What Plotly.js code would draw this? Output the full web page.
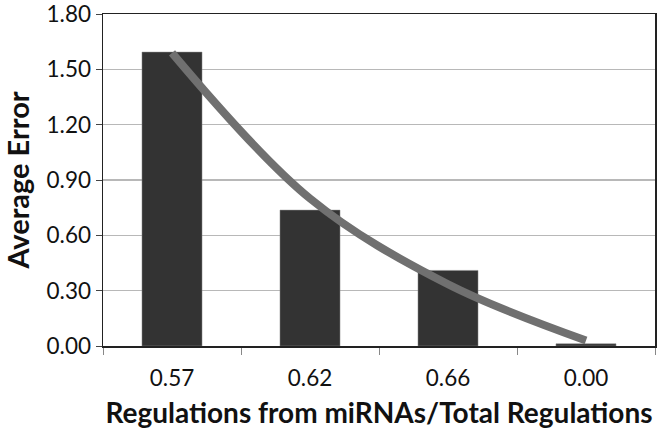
<!DOCTYPE html>
<html>
<head>
<meta charset="utf-8">
<script src="https://cdn.plot.ly/plotly-3.0.1.min.js"></script>
<style>
  html, body { margin: 0; padding: 0; background: #fff; }
  #chart { width: 661px; height: 436px; }
</style>
</head>
<body>
<div id="chart"></div>
<script>
// ratio of regulations coming from miRNAs (category labels as printed)
const ratios = ["0.57", "0.62", "0.66", "0.00"];
// average error per ratio (bars)
const avgError = [1.594, 0.737, 0.41, 0.012];
// trend curve at each category centre
const trendValues = [1.59, 0.80, 0.335, 0.03];
const yTicks = [0, 0.3, 0.6, 0.9, 1.2, 1.5, 1.8];

const bars = {
  x: ratios,
  y: avgError,
  type: "bar",
  marker: { color: "#333333", line: { color: "#8a8a8a", width: 0.5 } },
  hoverinfo: "x+y",
};

const trend = {
  x: ratios,
  y: trendValues,
  type: "scatter",
  mode: "lines",
  line: { color: "#707070", width: 8, shape: "spline", smoothing: 1 },
  hoverinfo: "skip",
};

const titleFont = { size: 28, family: "Lato, 'Open Sans', sans-serif", weight: "bold", color: "#111111" };

const layout = {
  width: 661,
  height: 436,
  margin: { l: 103, r: 6, t: 14, b: 90 },
  paper_bgcolor: "#ffffff",
  plot_bgcolor: "#ffffff",
  showlegend: false,
  bargap: 0.565,
  font: { family: "Lato, 'Open Sans', sans-serif", color: "#111111" },
  xaxis: {
    type: "category",
    showline: true,
    mirror: true,
    linecolor: "#222222",
    linewidth: 1.5,
    ticks: "outside",
    tickson: "boundaries",
    ticklen: 7,
    tickcolor: "#888888",
    tickfont: { size: 22.5, color: "#111111" },
    ticklabelstandoff: 11,
    showgrid: false,
    title: { text: "Regulations from miRNAs/Total Regulations", font: titleFont, standoff: 14 },
  },
  yaxis: {
    range: [0, 1.8005],
    tickvals: yTicks,
    tickformat: ".2f",
    ticklabeloverflow: "allow",
    showline: true,
    mirror: true,
    linecolor: "#222222",
    linewidth: 1.5,
    ticks: "outside",
    ticklen: 6,
    tickcolor: "#444444",
    tickfont: { size: 22.5, color: "#111111" },
    showgrid: true,
    gridcolor: "#b8b8b8",
    gridwidth: 1.5,
    zeroline: false,
    title: { text: "Average Error", font: { ...titleFont, size: 29 }, standoff: 8 },
  },
};

Plotly.newPlot("chart", [bars, trend], layout, { displayModeBar: false, staticPlot: true });
</script>
</body>
</html>
